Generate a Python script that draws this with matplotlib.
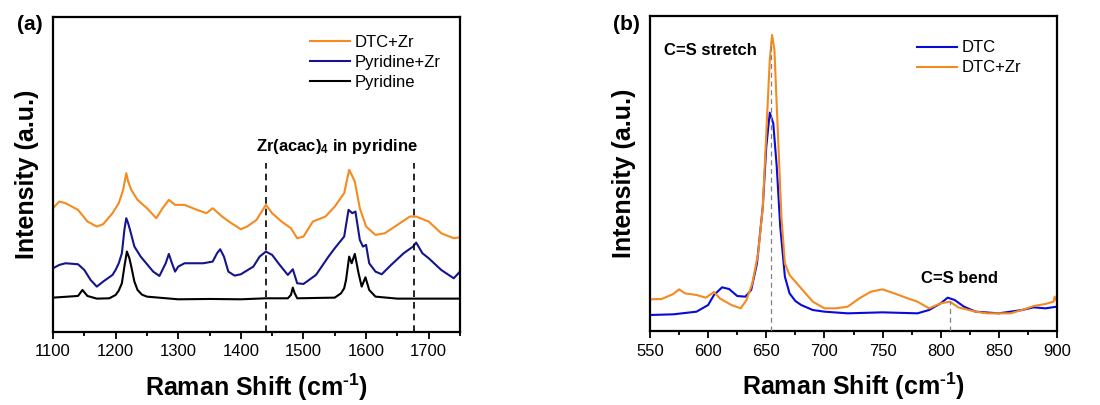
import matplotlib
matplotlib.use("Agg")
import matplotlib.pyplot as plt
import numpy as np

plt.rcParams['font.family'] = ['Liberation Sans', 'DejaVu Sans']
plt.rcParams['mathtext.fontset'] = 'custom'
plt.rcParams['mathtext.rm'] = 'Liberation Sans:bold'
plt.rcParams['mathtext.it'] = 'Liberation Sans:bold'
plt.rcParams['mathtext.bf'] = 'Liberation Sans:bold'

# ---------------- Panel (a) data (zoomed pixel readings -> 0..100 scale) ----------------
pyr_x = [1100, 1140, 1147, 1155, 1170, 1190, 1200, 1205, 1210, 1214, 1218, 1222, 1225, 1230,
         1235, 1242, 1250, 1300, 1350, 1400, 1440, 1475, 1480, 1483, 1486, 1490, 1550, 1560,
         1565, 1568, 1573, 1577, 1582, 1588, 1593, 1599, 1605, 1615, 1650, 1750]
pyr_px = [893, 888, 870, 888, 896, 895, 885, 872, 850, 800, 755, 775, 800, 845,
          870, 884, 890, 898, 897, 898, 895, 895, 885, 863, 880, 895, 893, 880,
          865, 840, 770, 790, 762, 820, 860, 832, 870, 890, 896, 896]

pyrzr_x = [1100, 1110, 1120, 1140, 1150, 1160, 1170, 1180, 1195, 1200, 1205, 1210, 1214, 1217,
           1220, 1223, 1230, 1240, 1260, 1270, 1280, 1285, 1290, 1295, 1300, 1310, 1320, 1340,
           1355, 1362, 1367, 1373, 1380, 1390, 1400, 1420, 1430, 1440, 1450, 1460, 1475, 1483,
           1490, 1500, 1520, 1540, 1550, 1565, 1572, 1578, 1583, 1590, 1595, 1600, 1605, 1615,
           1625, 1640, 1660, 1675, 1680, 1690, 1700, 1720, 1740, 1750]
pyrzr_px = [805, 795, 790, 793, 810, 840, 860, 845, 825, 810, 790, 760, 690, 655,
            670, 690, 740, 770, 815, 828, 790, 762, 790, 815, 800, 790, 790, 790,
            785, 760, 748, 770, 815, 827, 823, 800, 770, 755, 765, 790, 825, 808,
            850, 852, 825, 770, 745, 710, 630, 640, 635, 720, 740, 735, 790, 815,
            823, 795, 760, 740, 728, 760, 775, 810, 835, 815]

dtczr_x = [1100, 1110, 1120, 1140, 1155, 1170, 1180, 1195, 1205, 1212, 1217, 1220, 1225, 1235,
           1250, 1265, 1275, 1285, 1295, 1310, 1330, 1345, 1355, 1370, 1385, 1400, 1410, 1425,
           1440, 1450, 1465, 1480, 1490, 1500, 1515, 1535, 1550, 1565, 1573, 1577, 1582, 1590,
           1600, 1615, 1630, 1650, 1670, 1680, 1700, 1720, 1740, 1750]
dtczr_px = [625, 605, 610, 630, 665, 680, 673, 640, 610, 570, 520, 545, 570, 600,
            625, 655, 625, 600, 615, 615, 630, 640, 625, 650, 670, 688, 680, 660,
            615, 640, 665, 685, 715, 710, 665, 650, 620, 580, 510, 525, 545, 625,
            680, 705, 700, 675, 650, 650, 665, 700, 715, 712]

# ---------------- Panel (b) data ----------------
dtc_x = [550, 570, 590, 600, 605, 612, 618, 625, 632, 637, 642, 647, 650, 653, 656, 659, 662,
         666, 670, 675, 680, 690, 700, 720, 750, 780, 790, 800, 806, 812, 820, 830, 850, 870,
         880, 890, 900]
dtc_px = [945, 943, 935, 915, 885, 862, 867, 888, 890, 870, 790, 620, 440, 338, 370, 500, 680,
          830, 880, 903, 915, 930, 935, 940, 937, 940, 930, 910, 893, 900, 920, 935, 940, 930,
          922, 925, 920]

dtczr_b_x = [550, 560, 570, 575, 580, 590, 598, 605, 610, 620, 628, 633, 638, 643, 647, 650, 653,
             655, 657, 660, 663, 666, 670, 680, 690, 700, 710, 720, 730, 740, 750, 760, 770, 780,
             790, 800, 808, 815, 830, 840, 860, 870, 880, 890, 897, 898, 900]
dtczr_b_px = [898, 897, 882, 868, 880, 885, 893, 876, 895, 915, 925, 900, 850, 760, 620, 400, 180,
              105, 150, 400, 650, 790, 825, 865, 905, 925, 925, 920, 895, 875, 868, 880, 893, 905,
              925, 910, 905, 922, 935, 940, 940, 930, 918, 912, 905, 890, 905]

def a_val(px):
    return (996 - np.array(px)) / 944 * 100

def b_val(px):
    return (993 - np.array(px)) / 945 * 100

ORANGE = '#F58A1F'
NAVY = '#14148C'
BLUE = '#0A0AD8'

fig = plt.figure(figsize=(11, 4.05), dpi=100)
axa = fig.add_axes([53/1100, 1-332/405, 407/1100, 315/405])
axb = fig.add_axes([650/1100, 1-331/405, 407/1100, 315/405])

lw = 1.5
axa.plot(dtczr_x, a_val(dtczr_px), color=ORANGE, lw=lw, label='DTC+Zr')
axa.plot(pyrzr_x, a_val(pyrzr_px), color=NAVY, lw=lw, label='Pyridine+Zr')
axa.plot(pyr_x, a_val(pyr_px), color='black', lw=lw, label='Pyridine')
for xv in [1440, 1677]:
    axa.plot([xv, xv], [0, 53.5], color='black', lw=1.2, ls=(0, (4, 3)))
axa.text(1554, 58.9, 'Zr(acac)$_4$ in pyridine', ha='center', va='center',
         fontsize=12, fontweight='bold')
axa.set_xlim(1100, 1750)
axa.set_ylim(0, 100)
axa.set_xticks(np.arange(1100, 1701, 100))
axa.set_xticks(np.arange(1150, 1751, 100), minor=True)
axa.legend(loc='upper right', bbox_to_anchor=(0.99, 0.99), frameon=False, fontsize=12,
           handlelength=2.4, handletextpad=0.3, labelspacing=0.3)

axb.plot(dtc_x, b_val(dtc_px), color=BLUE, lw=lw, label='DTC')
axb.plot(dtczr_b_x, b_val(dtczr_b_px), color=ORANGE, lw=lw, label='DTC+Zr')
axb.plot([654, 654], [0, 92], color='gray', lw=0.9, ls=(0, (4, 3)), zorder=3)
axb.plot([808, 808], [0, 9.5], color='gray', lw=0.9, ls=(0, (4, 3)), zorder=3)
axb.text(562, 89, 'C=S stretch', ha='left', va='center', fontsize=12, fontweight='bold')
axb.text(783, 16.7, 'C=S bend', ha='left', va='center', fontsize=12, fontweight='bold')
axb.set_xlim(550, 900)
axb.set_ylim(0, 100)
axb.set_xticks(np.arange(550, 901, 50))
axb.set_xticks(np.arange(575, 900, 50), minor=True)
axb.legend(loc='upper right', bbox_to_anchor=(0.95, 0.97), frameon=False, fontsize=12,
           handlelength=2.4, handletextpad=0.3, labelspacing=0.3)

for ax in (axa, axb):
    ax.set_yticks([])
    for s in ax.spines.values():
        s.set_linewidth(1.6)
    ax.tick_params(axis='x', which='major', direction='out', length=5, width=1.3,
                   labelsize=12, pad=4)
    ax.tick_params(axis='x', which='minor', direction='out', length=3, width=1.3)
    ax.set_xlabel('Raman Shift (cm$^{\\text{-}1}$)', fontsize=18, fontweight='bold', labelpad=9)
    ax.set_ylabel('Intensity (a.u.)', fontsize=18, fontweight='bold', labelpad=10)

fig.text(17/1100, 1-25/405, '(a)', fontsize=15, fontweight='bold', ha='left', va='center')
fig.text(613/1100, 1-25/405, '(b)', fontsize=15, fontweight='bold', ha='left', va='center')

fig.savefig('out.png', dpi=100)
